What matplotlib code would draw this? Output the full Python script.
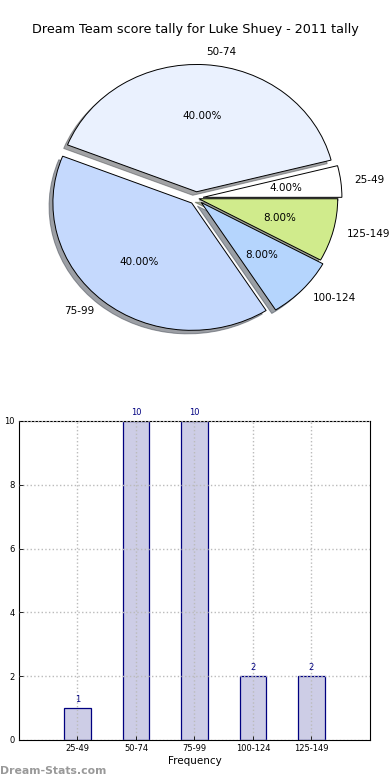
import matplotlib
matplotlib.use("Agg")
import matplotlib.pyplot as plt

categories = ["25-49", "50-74", "75-99", "100-124", "125-149"]
counts = [1, 10, 10, 2, 2]
pie_colors = ["#ffffff", "#eaf1fe", "#c5d9fd", "#b5d5fd", "#d0eb8c"]
explode = [0.05, 0.05, 0.05, 0.05, 0.02]
title = "Dream Team score tally for Luke Shuey - 2011 tally"
yticks = [0, 2, 4, 6, 8, 10]

fig = plt.figure(figsize=(3.9, 7.8), dpi=100)

# Pie
axp = fig.add_axes([0.058, 0.542, 0.890, 0.408])
wedges, texts, autotexts = axp.pie(
    counts, labels=categories, colors=pie_colors, explode=explode,
    autopct="%1.2f%%", startangle=0, shadow=True,
    wedgeprops=dict(edgecolor="black", linewidth=0.7),
    textprops=dict(fontsize=7.5))
axp.set_aspect("auto")
axp.set_xlim(-1.25, 1.25)
axp.set_ylim(-1.25, 1.25)
fig.text(0.5, 1 - 30 / 780, title, ha="center", va="center", fontsize=9.2)

# Bars
axb = fig.add_axes([0.0487, 0.0513, 0.900, 0.409])
x = list(range(len(categories)))
bars = axb.bar(x, counts, width=0.45, color="#cdcde6", edgecolor="#000080",
               linewidth=0.9, zorder=2)
for xi, c in zip(x, counts):
    axb.text(xi, c + 0.12, str(c), ha="center", va="bottom", fontsize=6,
             color="#000080")
axb.set_xlim(-1, 5)
axb.set_ylim(0, 10)
axb.set_xticks(x)
axb.set_xticklabels(categories, fontsize=6)
axb.set_yticks(yticks)
axb.set_yticklabels([str(v) for v in yticks], fontsize=6)
axb.tick_params(direction="in", length=3, width=0.6, pad=3)
axb.grid(True, linestyle=":", color="#bbbbbb", linewidth=1, zorder=0)
axb.set_axisbelow(False)
axb.set_xlabel("Frequency", fontsize=7.5, labelpad=2)
axb.set_ylabel("Dream Team tally", fontsize=7, labelpad=6)
for s in axb.spines.values():
    s.set_linewidth(0.8)

fig.text(0.0, 9 / 780, "Dream-Stats.com", ha="left", va="center",
         fontsize=7.8, color="#999999", fontweight="bold")

fig.savefig("out.png", dpi=100)
